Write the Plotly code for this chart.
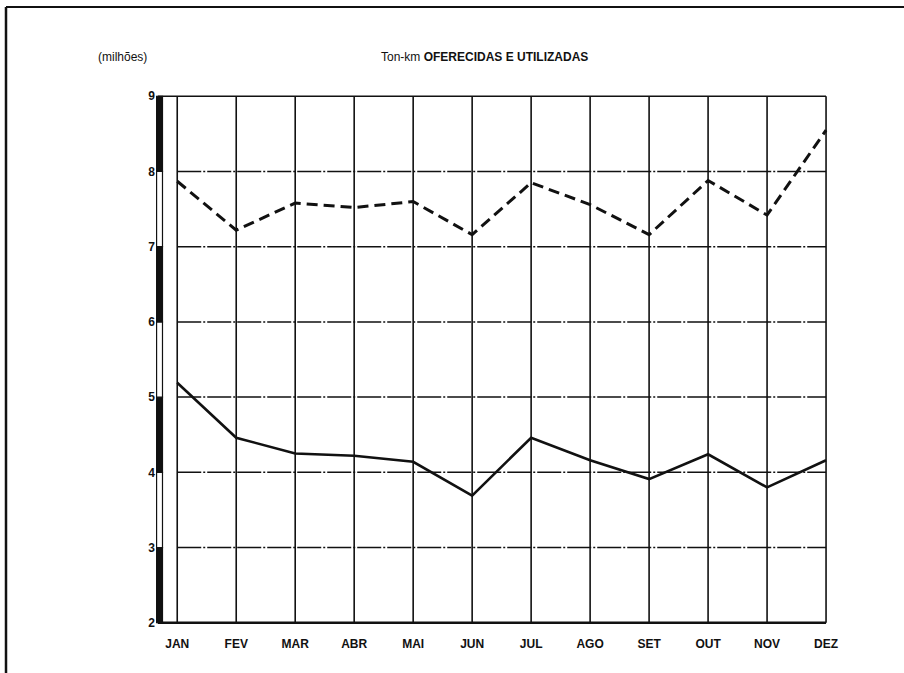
import plotly.graph_objects as go

# ---------------- data ----------------
months = ["JAN", "FEV", "MAR", "ABR", "MAI", "JUN", "JUL", "AGO", "SET", "OUT", "NOV", "DEZ"]
oferecidas = [7.87, 7.22, 7.58, 7.52, 7.60, 7.16, 7.85, 7.56, 7.16, 7.88, 7.42, 8.55]
utilizadas = [5.19, 4.46, 4.25, 4.22, 4.14, 3.69, 4.46, 4.16, 3.91, 4.24, 3.80, 4.16]
y_ticks = [2, 3, 4, 5, 6, 7, 8, 9]
title_text = "Ton-km <b>OFERECIDAS E UTILIZADAS</b>"
unit_text = "(milhões)"

# ---------------- layout geometry ----------------
W, H = 904, 673
ML, MR, MT, MB = 156, 75, 94, 48
X_RANGE = [-0.36, 11.05]
Y_RANGE = [1.97, 9.03]
FONT = "Liberation Sans Narrow, Liberation Sans, Arial, sans-serif"
INK = "#111111"


def px_x(px):
    return (px - ML) / (W - ML - MR)


def px_y(py):
    return (H - MB - py) / (H - MT - MB)


fig = go.Figure()

fig.add_trace(go.Scatter(
    x=months, y=oferecidas, mode="lines", name="Oferecidas",
    line=dict(color=INK, width=3, dash="11px,6px"),
))
fig.add_trace(go.Scatter(
    x=months, y=utilizadas, mode="lines", name="Utilizadas",
    line=dict(color=INK, width=2.6),
))

shapes = []
n = len(months)
# vertical grid lines at each month
for i in range(n):
    shapes.append(dict(type="line", xref="x", yref="y", x0=i, x1=i,
                       y0=y_ticks[0], y1=y_ticks[-1],
                       line=dict(color=INK, width=1.6), layer="below"))
# horizontal grid lines
for v in y_ticks:
    if v == y_ticks[-1]:
        shapes.append(dict(type="line", xref="x", yref="y", x0=-0.33, x1=n - 1,
                           y0=v, y1=v, line=dict(color=INK, width=1.6), layer="below"))
    elif v == y_ticks[0]:
        shapes.append(dict(type="line", xref="x", yref="y", x0=-0.33, x1=n - 1,
                           y0=v, y1=v, line=dict(color=INK, width=2.4), layer="below"))
        shapes.append(dict(type="line", xref="x", yref="y", x0=-0.33, x1=n - 1,
                           y0=v - 0.045, y1=v - 0.045, line=dict(color=INK, width=1.2),
                           layer="below"))
    else:
        shapes.append(dict(type="line", xref="x", yref="y", x0=0, x1=n - 1,
                           y0=v, y1=v, line=dict(color=INK, width=1.5, dash="24px,2px,2px,2px"),
                           layer="below"))

# left scale bar, alternating black / white units
bx0, bx1 = -0.35, -0.25
for k in range(len(y_ticks) - 1):
    lo, hi = y_ticks[k], y_ticks[k + 1]
    black = (len(y_ticks) - 2 - k) % 2 == 0
    shapes.append(dict(type="rect", xref="x", yref="y", x0=bx0, x1=bx1, y0=lo, y1=hi,
                       fillcolor=INK if black else "white",
                       line=dict(color=INK, width=1.2)))

# page border (top and left)
shapes.append(dict(type="line", xref="paper", yref="paper",
                   x0=px_x(6), x1=px_x(904), y0=px_y(7), y1=px_y(7),
                   line=dict(color=INK, width=2)))
shapes.append(dict(type="line", xref="paper", yref="paper",
                   x0=px_x(6), x1=px_x(6), y0=px_y(7), y1=px_y(673),
                   line=dict(color=INK, width=2.5)))

annotations = [
    dict(text=title_text, xref="paper", yref="paper", x=px_x(484), y=px_y(57),
         showarrow=False, xanchor="center", yanchor="middle",
         font=dict(family=FONT, size=12, color=INK)),
    dict(text=unit_text, xref="paper", yref="paper", x=px_x(122), y=px_y(57),
         showarrow=False, xanchor="center", yanchor="middle",
         font=dict(family=FONT, size=12, color=INK)),
]

fig.update_layout(
    width=W, height=H,
    margin=dict(l=ML, r=MR, t=MT, b=MB),
    paper_bgcolor="white", plot_bgcolor="white",
    showlegend=False,
    shapes=shapes, annotations=annotations,
    font=dict(family=FONT, color=INK),
)
fig.update_xaxes(
    type="category", categoryorder="array", categoryarray=months,
    range=X_RANGE, showgrid=False, zeroline=False, showline=False,
    ticks="", tickfont=dict(family=FONT, size=12, color=INK, weight="bold"),
    ticklabelstandoff=10,
)
fig.update_yaxes(
    range=Y_RANGE, tickvals=y_ticks, ticktext=[str(v) for v in y_ticks],
    showgrid=False, zeroline=False, showline=False, ticks="",
    tickfont=dict(family=FONT, size=12, color=INK, weight="bold"),
)

fig.write_html("out.html", config={"displayModeBar": False},
               post_script="document.body.style.margin='0';")
